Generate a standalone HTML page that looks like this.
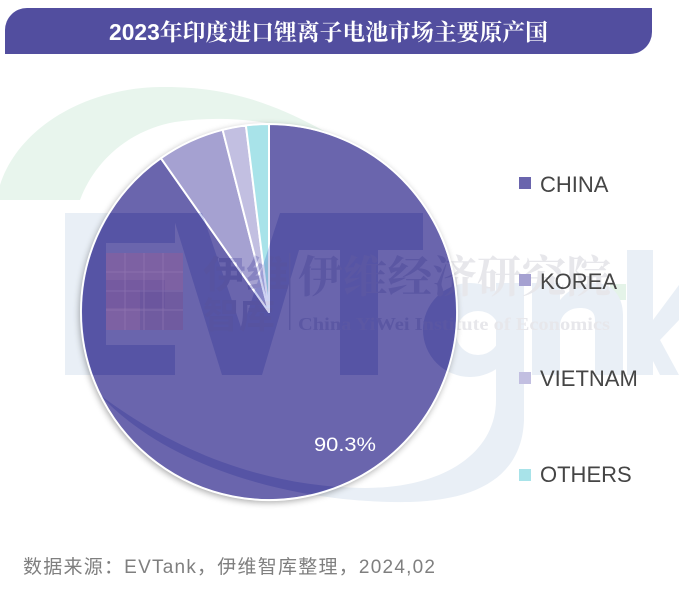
<!DOCTYPE html>
<html>
<head>
<meta charset="utf-8">
<style>
html,body{margin:0;padding:0;background:#fff;}
svg{display:block;}
</style>
</head>
<body>
<svg width="679" height="591" viewBox="0 0 679 591" xmlns="http://www.w3.org/2000/svg">
  <defs>
    <clipPath id="pieclip"><circle cx="269" cy="312" r="188"/></clipPath>
    <filter id="sh" x="-20%" y="-20%" width="140%" height="140%">
      <feGaussianBlur in="SourceAlpha" stdDeviation="3.5"/>
      <feOffset dx="-1" dy="2" result="b"/>
      <feComponentTransfer><feFuncA type="linear" slope="0.35"/></feComponentTransfer>
      <feMerge><feMergeNode/><feMergeNode in="SourceGraphic"/></feMerge>
    </filter>
    <g id="wm">
      <!-- E -->
      <rect x="65" y="213" width="41" height="162"/>
      <rect x="65" y="213" width="110" height="30"/>
      <rect x="65" y="280" width="100" height="28"/>
      <rect x="65" y="345" width="110" height="30"/>
      <!-- V -->
      <polygon points="172,213 202,213 242,330 280,213 310,213 262,375 222,375"/>
      <!-- T -->
      <rect x="298" y="213" width="125" height="37"/>
      <rect x="340" y="213" width="38" height="162"/>
      <!-- a -->
      <path fill-rule="evenodd" d="M423,330 A47,47 0 1 0 517,330 A47,47 0 1 0 423,330 Z M456,333 A22,22 0 1 1 500,333 A22,22 0 1 1 456,333 Z"/>
      <rect x="496" y="283" width="28" height="94"/>
      <!-- tail swoosh -->
      <path d="M496,377 L524,377 L524,420 C522,475 480,500 410,502 C300,504 170,470 100,395 C180,455 270,487 365,488 C445,488 496,452 496,400 Z"/>
      <!-- n -->
      <path d="M532,283 L560,283 L560,300 C570,288 583,283 595,283 C612,283 623,296 623,315 L623,375 L595,375 L595,320 C595,312 590,308 580,308 C568,308 560,316 560,326 L560,375 L532,375 Z"/>
      <!-- k -->
      <rect x="627" y="250" width="26" height="125"/>
      <polygon points="653,320 679,285 679,320 660,340 679,375 660,375 645,345"/>
    </g>
    <g id="wmtext">
      <text x="298" y="292" font-family="'Liberation Serif','Noto Serif CJK SC',serif" font-size="44" font-weight="bold" textLength="313" lengthAdjust="spacingAndGlyphs">伊维经济研究院</text>
      <text x="298" y="330" font-family="'Liberation Serif',serif" font-size="18" font-weight="bold" textLength="312" lengthAdjust="spacingAndGlyphs">China YiWei Institute of Economics</text>
    </g>
  </defs>

  <rect width="679" height="591" fill="#ffffff"/>

  <!-- green swoosh -->
  <path d="M0,200 L0,185 C18,128 85,88 160,87 C225,86 275,102 340,140 L320,140 C285,122 230,114 175,122 C130,130 95,160 80,200 Z" fill="#e8f5ed"/>
  <rect x="610" y="284" width="16" height="16" fill="#e4f3e8"/>

  <!-- outside watermark (light) -->
  <use href="#wm" fill="#e9eff6"/>
  <use href="#wmtext" fill="#e7e7eb"/>
  <rect x="289" y="253" width="1.5" height="77" fill="#e2e2e8"/>

  <!-- pie -->
  <g filter="url(#sh)">
    <circle cx="269" cy="312" r="188.5" fill="#ffffff"/>
  </g>
  <g stroke="#ffffff" stroke-width="2" stroke-linejoin="round">
    <path d="M269,312 L269,124 A188,188 0 1 1 160.9,158.2 Z" fill="#6a65ad"/>
    <path d="M269,312 L160.9,158.2 A188,188 0 0 1 222.6,129.8 Z" fill="#a5a1d1"/>
    <path d="M269,312 L222.6,129.8 A188,188 0 0 1 245.9,125.4 Z" fill="#c2bfe1"/>
    <path d="M269,312 L245.9,125.4 A188,188 0 0 1 269,124 Z" fill="#a8e3e9"/>
  </g>

  <!-- inside watermark (darken) -->
  <g clip-path="url(#pieclip)" style="mix-blend-mode:multiply">
    <use href="#wm" fill="#ced4f3"/>
    <use href="#wmtext" fill="#dadaf0"/>
    <rect x="289" y="253" width="1.5" height="77" fill="#d8d8ee"/>
    <text x="203" y="288" font-family="'Liberation Sans','Noto Sans CJK SC',sans-serif" font-size="38" font-weight="bold" textLength="86" lengthAdjust="spacingAndGlyphs" fill="#d0d0ec">伊维</text>
    <text x="203" y="328" font-family="'Liberation Sans','Noto Sans CJK SC',sans-serif" font-size="36" font-weight="bold" textLength="72" lengthAdjust="spacingAndGlyphs" fill="#d0d0ec">智库</text>
  </g>

  <!-- logo square -->
  <g clip-path="url(#pieclip)">
    <rect x="106" y="253" width="77" height="77" fill="#8a5f9c" opacity="0.6"/>
    <rect x="140" y="290" width="43" height="40" fill="#5a4f9a" opacity="0.35"/>
    <g stroke="#a58cc0" stroke-width="0.8" opacity="0.45">
      <line x1="106" y1="272" x2="183" y2="272"/>
      <line x1="106" y1="291" x2="183" y2="291"/>
      <line x1="106" y1="310" x2="183" y2="310"/>
      <line x1="125" y1="253" x2="125" y2="330"/>
      <line x1="144" y1="253" x2="144" y2="330"/>
      <line x1="163" y1="253" x2="163" y2="330"/>
    </g>
  </g>

  <circle cx="269" cy="312" r="188" fill="none" stroke="#ffffff" stroke-width="1.5"/>

  <!-- label -->
  <text x="345" y="451" text-anchor="middle" font-family="'Liberation Sans',sans-serif" font-size="19" fill="#ffffff" textLength="62" lengthAdjust="spacingAndGlyphs">90.3%</text>

  <!-- title bar -->
  <path d="M27,8 L652,8 L652,32 A22,22 0 0 1 630,54 L5,54 L5,30 A22,22 0 0 1 27,8 Z" fill="#524e9f"/>
  <text x="109" y="40" font-family="'Liberation Sans','Noto Serif CJK SC',serif" font-size="23" font-weight="bold" fill="#ffffff" textLength="439" lengthAdjust="spacingAndGlyphs">2023年印度进口锂离子电池市场主要原产国</text>

  <!-- legend -->
  <g font-family="'Liberation Sans',sans-serif" font-size="22" fill="#454545">
    <rect x="519" y="177" width="12" height="12" fill="#6a65ad"/>
    <text x="540" y="192">CHINA</text>
    <rect x="519" y="274" width="12" height="12" fill="#a5a1d1"/>
    <text x="540" y="289">KOREA</text>
    <rect x="519" y="372" width="12" height="12" fill="#c2bfe1"/>
    <text x="540" y="386">VIETNAM</text>
    <rect x="519" y="469" width="12" height="12" fill="#a8e3e9"/>
    <text x="540" y="482">OTHERS</text>
  </g>

  <!-- source -->
  <text x="23" y="573" font-family="'Liberation Sans','Noto Sans CJK SC',sans-serif" font-size="19" fill="#7f7f7f" textLength="412" lengthAdjust="spacing">数据来源：EVTank，伊维智库整理，2024,02</text>
</svg>
</body>
</html>
